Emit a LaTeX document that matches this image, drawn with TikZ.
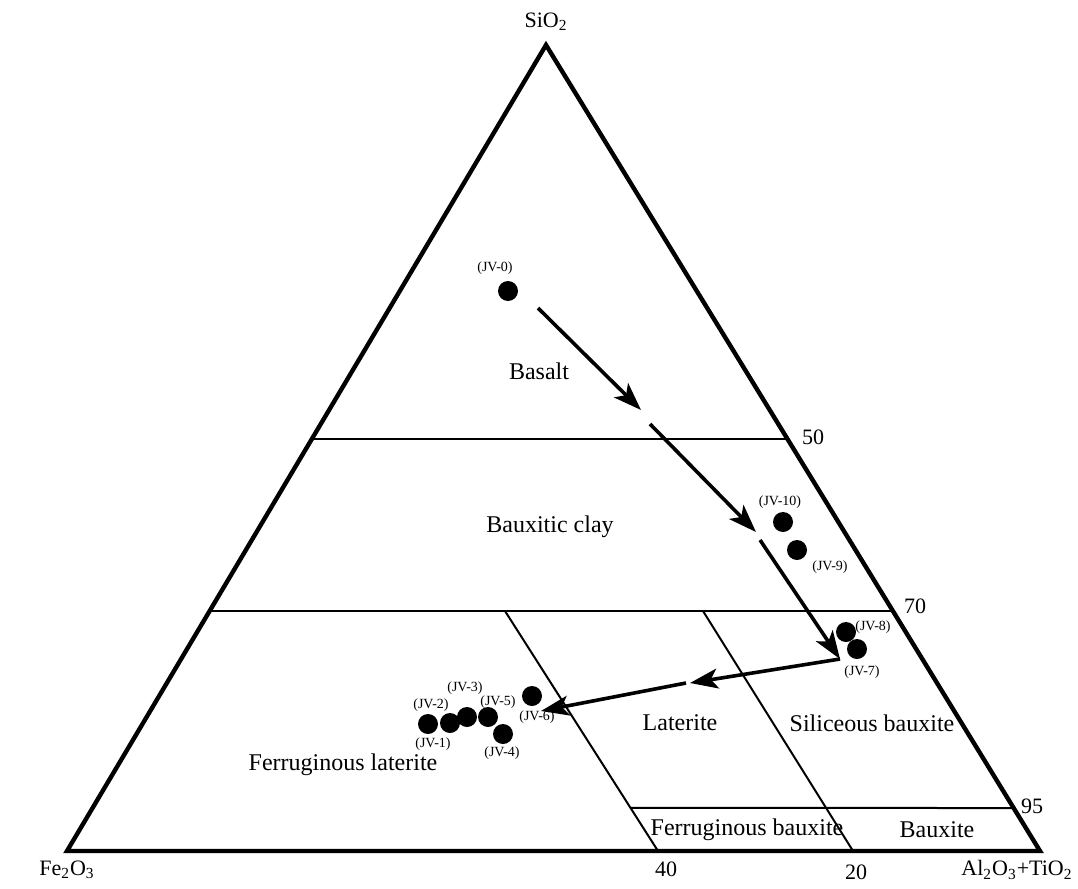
\documentclass[tikz,border=0pt]{standalone}
\usepackage{fontspec}
\setmainfont{Liberation Serif}
\usetikzlibrary{arrows.meta,calc}
\tikzset{>=latex}
\tikzset{
	frame/.style={line width=2.2pt, line join=miter},
	bound/.style={line width=1pt},
	sample/.style={circle, fill=black, inner sep=0pt, minimum size=10pt},
	tag/.style={font=\fontsize{7}{8}\selectfont, inner sep=0pt},
	field/.style={font=\fontsize{12}{14}\selectfont, inner sep=0pt},
	tick/.style={font=\fontsize{11}{13}\selectfont, inner sep=0pt},
	flow/.style={line width=1.8pt, -{Stealth[length=14pt, width=10pt, inset=3.5pt]}}
}

\begin{document}
\begin{tikzpicture}[x=0.5pt, y=-0.5pt]
		\useasboundingbox (0,0) rectangle (1078,889);
		% corners
		\coordinate (top) at (546,45);
		\coordinate (fe) at (67,851);
		\coordinate (al) at (1040,851);
		\draw[frame] (fe) -- (top) -- (al) -- cycle;
		\node[tick] (si) at (546,22) {SiO\textsubscript{2}};
		\node[tick] (feo) at (67,870) {Fe\textsubscript{2}O\textsubscript{3}};
		\node[tick] (alo) at (1017,870) {Al\textsubscript{2}O\textsubscript{3}+TiO\textsubscript{2}};

		% boundaries
		\coordinate (d40a) at (505,611);
		\coordinate (d40b) at (658,851);
		\coordinate (d20a) at (703,611);
		\coordinate (d20b) at (853,851);
		\draw[bound] ($(fe)!0.511!(top)$) -- ($(al)!0.511!(top)$);
		\draw[bound] ($(fe)!0.298!(top)$) -- ($(al)!0.298!(top)$);
		\draw[bound] ($(d40a)!0.82!(d40b)$) -- ($(al)!0.0533!(top)$);
		\draw[bound] (d40a) -- (d40b);
		\draw[bound] (d20a) -- (d20b);
		\node[tick] (n50) at (813,437) {50};
		\node[tick] (n70) at (915,606) {70};
		\node[tick] (n95) at (1032,806) {95};
		\node[tick] (n40) at (666,869) {40};
		\node[tick] (n20) at (856,872) {20};

		% fields
		\node[field] (basalt) at (539,371) {Basalt};
		\node[field] (clay) at (550,527) {Bauxitic clay};
		\node[field] (lat) at (680,723) {Laterite};
		\node[field] (silb) at (872,723) {Siliceous bauxite};
		\node[field] (ferl) at (343,765) {Ferruginous laterite};
		\node[field] (ferb) at (747,830) {Ferruginous bauxite};
		\node[field] (baux) at (937,830) {Bauxite};

		% samples
		\node[sample] (jv0) at (508,291) {};
		\node[sample] (jv10) at (783,522) {};
		\node[sample] (jv9) at (797,550) {};
		\node[sample] (jv8) at (846,632) {};
		\node[sample] (jv7) at (857,649) {};
		\node[sample] (jv1) at (428,724) {};
		\node[sample] (jv2) at (450,723) {};
		\node[sample] (jv3) at (467,717) {};
		\node[sample] (jv5) at (488,717) {};
		\node[sample] (jv4) at (503,734) {};
		\node[sample] (jv6) at (532,696) {};
		\node[tag] at (495,268) {(JV-0)};
		\node[tag] at (780,502) {(JV-10)};
		\node[tag] at (830,567) {(JV-9)};
		\node[tag] at (873,627) {(JV-8)};
		\node[tag] at (862,672) {(JV-7)};
		\node[tag] at (433,744) {(JV-1)};
		\node[tag] at (431,705) {(JV-2)};
		\node[tag] at (465,688) {(JV-3)};
		\node[tag] at (498,702) {(JV-5)};
		\node[tag] at (502,753) {(JV-4)};
		\node[tag] at (537,717) {(JV-6)};

		% weathering trend
		\coordinate (s0) at (538,308);
		\coordinate (k1) at (641,410);
		\coordinate (k2) at (650,424);
		\coordinate (k3) at (756,532);
		\coordinate (k4) at (760,540);
		\coordinate (k5) at (840,659);
		\coordinate (k6) at (690,683);
		\coordinate (k7) at (686,683);
		\coordinate (s1) at (541,711);
		\draw[flow] (s0) -- (k1);
		\draw[flow] (k2) -- (k3);
		\draw[flow] (k4) -- (k5);
		\draw[flow] (k5) -- (k6);
		\draw[flow] (k7) -- (s1);
	\end{tikzpicture}
\end{document}
